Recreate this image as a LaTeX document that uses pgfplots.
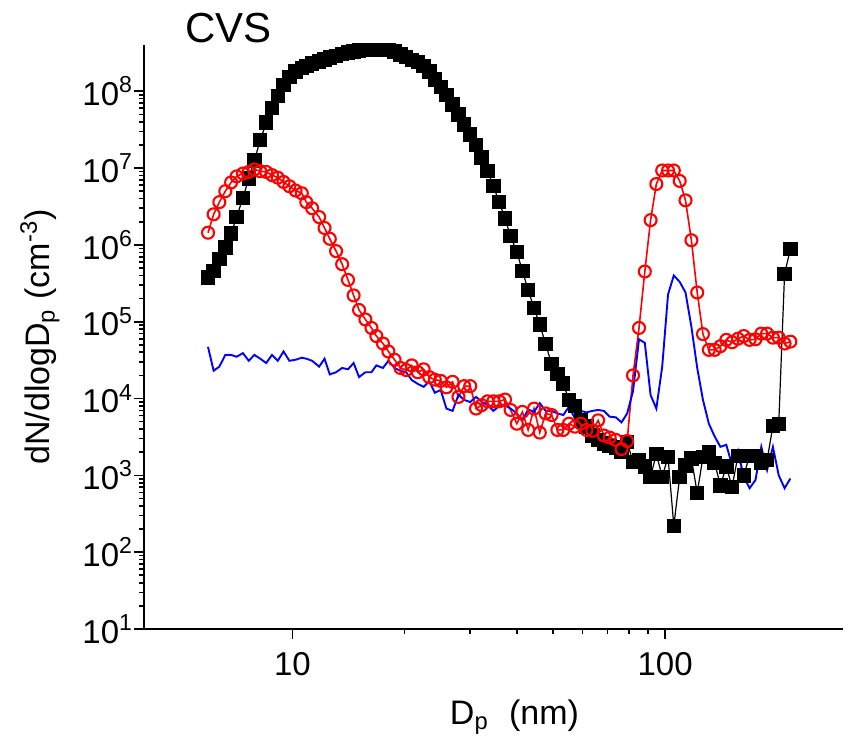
\documentclass[border=0pt]{standalone}
\usepackage{fontspec}
\setmainfont{Liberation Sans}
\usepackage{pgfplots}
\usepackage{pgfplotstable}
\pgfplotsset{compat=1.18}
\pgfplotstableread{
x blk red blu
5.94 3.77e5 1.44e6 4.7e4
6.15 4.6e5 2.5e6 2.3e4
6.37 6.5e5 3.6e6 2.6e4
6.61 9.2e5 5.0e6 3.7e4
6.85 1.4e6 6.5e6 3.7e4
7.09 2.3e6 7.8e6 3.5e4
7.37 4.1e6 8.5e6 3.9e4
7.64 7.3e6 8.9e6 3.1e4
7.91 1.26e7 9.6e6 3.7e4
8.20 2.3e7 9.1e6 3.3e4
8.51 3.9e7 8.9e6 2.9e4
8.82 6.1e7 8.1e6 3.7e4
9.14 8.7e7 7.5e6 3.1e4
9.47 1.2e8 6.6e6 4.1e4
9.82 1.53e8 5.8e6 3.1e4
10.2 1.8e8 5.1e6 3.2e4
10.6 2.0e8 4.7e6 3.4e4
10.9 2.15e8 3.6e6 3.3e4
11.3 2.3e8 3.0e6 3.1e4
11.8 2.45e8 2.3e6 2.6e4
12.2 2.6e8 1.66e6 3.3e4
12.6 2.75e8 1.2e6 2.06e4
13.1 2.9e8 8.3e5 2.2e4
13.6 3.05e8 5.6e5 2.5e4
14.1 3.2e8 3.5e5 2.4e4
14.6 3.3e8 2.2e5 2.9e4
15.1 3.4e8 1.42e5 1.9e4
15.7 3.45e8 1.07e5 2.2e4
16.3 3.45e8 8.3e4 2.2e4
16.8 3.45e8 6.5e4 2.7e4
17.5 3.45e8 5.2e4 2.5e4
18.1 3.45e8 4.1e4 3.1e4
18.8 3.3e8 3.2e4 2.5e4
19.5 3.0e8 2.5e4 2.3e4
20.2 2.8e8 2.35e4 2.2e4
20.9 2.55e8 2.7e4 1.74e4
21.7 2.4e8 2.2e4 1.55e4
22.5 2.15e8 2.4e4 1.42e4
23.3 1.8e8 1.9e4 1.68e4
24.1 1.42e8 1.76e4 1.19e4
25.0 1.13e8 1.7e4 1.29e4
25.9 8.9e7 1.4e4 7.4e3
26.9 6.7e7 1.65e4 6.9e3
27.9 5.0e7 1.05e4 1.12e4
28.9 3.7e7 1.45e4 9.6e3
30.0 2.75e7 1.45e4 9.0e3
31.1 2.0e7 7.4e3 1.05e4
32.2 1.38e7 8.2e3 9.1e3
33.4 9.2e6 9.2e3 8.2e3
34.6 5.8e6 9.2e3 6.9e3
35.9 3.6e6 9.2e3 8.0e3
37.2 2.2e6 9.7e3 8.2e3
38.5 1.3e6 7.1e3 7.4e3
40.0 8.1e5 4.7e3 6.4e3
41.4 4.6e5 6.7e3 5.2e3
42.9 2.6e5 3.9e3 7.2e3
44.5 1.5e5 7.4e3 6.7e3
46.1 9.2e4 3.6e3 8.7e3
47.8 5.1e4 6.4e3 6.9e3
49.6 2.8e4 6.1e3 6.9e3
51.4 2.1e4 3.9e3 6.4e3
53.3 1.57e4 3.9e3 6.1e3
55.2 9.5e3 4.7e3 7.8e3
57.3 8.0e3 4.3e3 5.5e3
59.4 5.2e3 4.7e3 6.9e3
61.5 4.3e3 3.9e3 6.6e3
63.8 3.3e3 3.8e3 6.9e3
66.1 2.9e3 5.2e3 7.1e3
68.5 2.6e3 3.3e3 6.9e3
71.0 2.4e3 3.1e3 5.8e3
73.7 2.3e3 2.9e3 5.7e3
76.4 2.0e3 2.2e3 4.9e3
79.1 2.7e3 2.8e3 6.4e3
82.0 1.5e3 2.0e4 1.25e4
85.1 1.58e3 8.3e4 5.9e4
88.2 1.3e3 4.5e5 5.3e4
91.4 9.6e2 2.1e6 1.11e4
94.7 1.9e3 6.2e6 7.4e3
98.2 9.6e2 9.3e6 2.6e4
101.8 1.73e3 9.3e6 2.26e5
105.5 2.2e2 9.3e6 4.0e5
109.4 9.6e2 6.8e6 3.3e5
113.4 1.35e3 3.8e6 2.4e5
117.6 1.66e3 1.15e6 8.6e4
121.9 5.9e2 2.4e5 2.5e4
126.3 1.73e3 6.9e4 9.6e3
131.0 2.0e3 4.3e4 4.7e3
135.8 1.44e3 4.3e4 3.2e3
140.7 7.4e2 4.8e4 2.35e3
145.9 1.3e3 5.8e4 2.5e3
151.2 7.1e2 5.4e4 1.36e3
156.8 1.8e3 6.0e4 2.1e3
162.5 1.0e3 6.5e4 9.6e2
168.5 1.8e3 5.8e4 6.8e2
174.7 1.8e3 5.9e4 8.7e2
181.1 1.44e3 7.0e4 2.35e3
187.7 1.58e3 7.0e4 1.17e3
194.6 4.4e3 6.2e4 2.35e3
201.7 4.7e3 6.2e4 1.0e3
209.1 4.2e5 5.2e4 6.8e2
216.7 8.8e5 5.5e4 9.1e2
}\data
\begin{document}
\begin{tikzpicture}
\useasboundingbox (0,0) rectangle (425pt,374pt);
\begin{axis}[
  at={(72pt,59.5pt)}, anchor=south west,
  scale only axis, width=349.5pt, height=292pt,
  clip=false,
  xmode=log, ymode=log,
  xmin=4, xmax=300, ymin=10, ymax=4e8,
  axis x line*=bottom, axis y line*=left,
  axis line style={line width=1pt, -},
  tick align=outside,
  major tick length=5pt, minor tick length=2.5pt,
  every tick/.style={black, line width=0.8pt},
  xtick={10,100}, xticklabels={10,100},
  ytick={10,100,1000,10000,100000,1000000,10000000,100000000},
  yticklabels={10\textsuperscript{1},10\textsuperscript{2},10\textsuperscript{3},10\textsuperscript{4},10\textsuperscript{5},10\textsuperscript{6},10\textsuperscript{7},10\textsuperscript{8}},
  tick label style={font=\fontsize{16.5}{18}\selectfont},
  xticklabel style={yshift=-3pt},
  yticklabel style={xshift=3pt},
  xlabel={D\textsubscript{p}\hspace{0.6em}(nm)},
  ylabel={dN/dlogD\textsubscript{p} (cm\textsuperscript{-3})},
  label style={font=\fontsize{17}{20}\selectfont},
  xlabel style={at={(axis description cs:0.53,-0.164)}, anchor=base},
  ylabel style={at={(axis description cs:-0.149,0.5)}, anchor=center},
]
\addplot[black, line width=0.6pt, mark=square*, mark size=3.3pt, mark options={solid, fill=black}] table[x=x, y=blk] {\data};
\addplot[red, line width=0.8pt, mark=o, mark size=3.0pt, mark options={solid, fill=white, line width=1.05pt}] table[x=x, y=red] {\data};
\addplot[blue, line width=0.95pt, no marks] table[x=x, y=blu] {\data};
\node[anchor=base west, font=\fontsize{21}{24}\selectfont, inner sep=0pt] at (rel axis cs:0.059,1.005) {CVS};
\end{axis}
\end{tikzpicture}
\end{document}
